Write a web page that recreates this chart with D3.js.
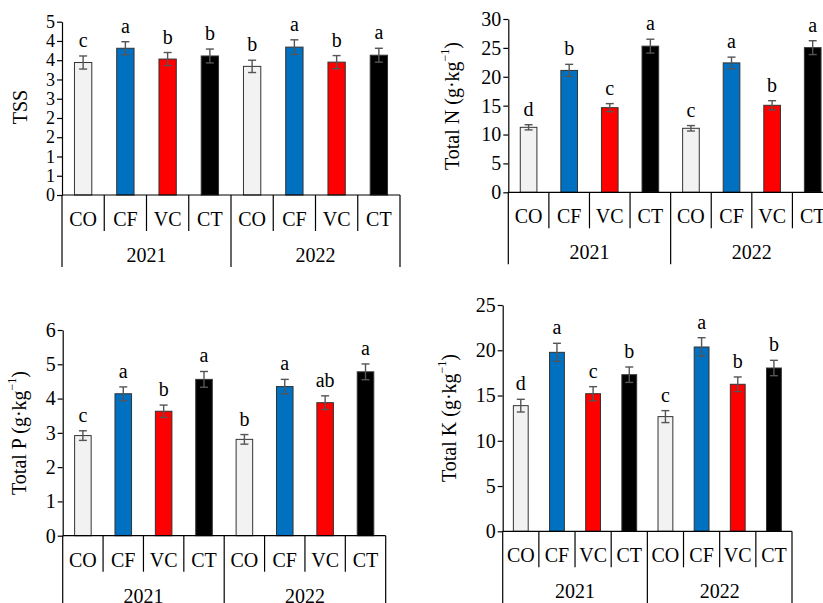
<!DOCTYPE html>
<html>
<head>
<meta charset="utf-8">
<script src="https://cdn.jsdelivr.net/npm/d3@7"></script>
<style>
  body { margin: 0; background: #fff; }
  svg { display: block; font-family: "Liberation Serif", "Times New Roman", serif; }
</style>
</head>
<body>
<svg id="chart" width="823" height="603"></svg>
<script>
// treatments and years
var treatments = ["CO", "CF", "VC", "CT"];
var years = ["2021", "2022"];
var colors = ["#f2f2f2", "#0070c0", "#ff0000", "#000000"];

// TSS
var tssMean = [3.44, 3.81, 3.53, 3.61, 3.34, 3.84, 3.45, 3.63];
var tssErr = [0.17, 0.17, 0.17, 0.18, 0.16, 0.19, 0.17, 0.18];
var tssLetters = ["c", "a", "b", "b", "b", "a", "b", "a"];
var tssTicks = [0, 0.5, 1, 1.5, 2, 2.5, 3, 3.5, 4, 4.5];

// Total N
var nMean = [11.25, 21.1, 14.65, 25.3, 11.08, 22.4, 15.06, 25.04];
var nErr = [0.45, 1.05, 0.7, 1.2, 0.47, 1.0, 0.8, 1.2];
var nLetters = ["d", "b", "c", "a", "c", "a", "b", "a"];
var nTicks = [0, 5, 10, 15, 20, 25, 30];

// Total P
var pMean = [2.92, 4.14, 3.63, 4.56, 2.81, 4.35, 3.88, 4.78];
var pErr = [0.14, 0.2, 0.18, 0.23, 0.14, 0.21, 0.2, 0.23];
var pLetters = ["c", "a", "b", "a", "b", "a", "ab", "a"];
var pTicks = [0, 1, 2, 3, 4, 5, 6];

// Total K
var kMean = [13.88, 19.77, 15.2, 17.3, 12.67, 20.36, 16.24, 18.04];
var kErr = [0.7, 1.0, 0.78, 0.85, 0.66, 1.03, 0.81, 0.85];
var kLetters = ["d", "a", "c", "b", "c", "a", "b", "b"];
var kTicks = [0, 5, 10, 15, 20, 25];

var svg = d3.select('#chart');

function drawPanel(p) {
  var keys = [];
  years.forEach(function (yr) {
    treatments.forEach(function (t) { keys.push(yr + '-' + t); });
  });
  var data = keys.map(function (k, i) {
    return { key: k, t: treatments[i % 4], mean: p.mean[i], err: p.err[i], letter: p.letters[i], color: colors[i % 4] };
  });

  var x = d3.scaleBand().domain(keys).range([p.x0, p.x1]).paddingInner(0.59).paddingOuter(0.295);
  var y = d3.scaleLinear().domain([0, p.max]).range([p.y0, p.yTop]);
  var step = x.step();
  var g = svg.append('g');

  // y axis
  var yAxis = d3.axisLeft(y).tickValues(p.ticks).tickSize(5).tickSizeOuter(0).tickPadding(2)
    .tickFormat(p.fmt || function (d) { return d; });
  var ya = g.append('g').attr('transform', 'translate(' + p.x0 + ',0)').call(yAxis);
  ya.selectAll('text').attr('font-size', p.tickFont || '20px').attr('font-family', '"Liberation Serif", serif').attr('fill', '#000');
  ya.selectAll('line, path').attr('stroke', '#000').attr('stroke-width', 1.2);

  // bars
  g.selectAll('rect.bar').data(data).enter().append('rect')
    .attr('x', function (d) { return x(d.key); })
    .attr('y', function (d) { return y(d.mean); })
    .attr('width', x.bandwidth())
    .attr('height', function (d) { return y(0) - y(d.mean); })
    .attr('fill', function (d) { return d.color; })
    .attr('stroke', '#333')
    .attr('stroke-width', 1);

  // error bars
  var eb = g.selectAll('g.err').data(data).enter().append('g')
    .attr('transform', function (d) { return 'translate(' + (x(d.key) + x.bandwidth() / 2) + ',0)'; })
    .attr('stroke', '#555').attr('stroke-width', 1.4);
  eb.append('line').attr('x1', 0).attr('x2', 0)
    .attr('y1', function (d) { return y(d.mean - d.err); })
    .attr('y2', function (d) { return y(d.mean + d.err); });
  eb.append('line').attr('x1', -4).attr('x2', 4)
    .attr('y1', function (d) { return y(d.mean + d.err); })
    .attr('y2', function (d) { return y(d.mean + d.err); });
  eb.append('line').attr('x1', -4).attr('x2', 4)
    .attr('y1', function (d) { return y(d.mean - d.err); })
    .attr('y2', function (d) { return y(d.mean - d.err); });

  // significance letters
  g.selectAll('text.letter').data(data).enter().append('text')
    .attr('x', function (d) { return x(d.key) + x.bandwidth() / 2; })
    .attr('y', function (d) { return y(d.mean + d.err) - 9; })
    .attr('text-anchor', 'middle')
    .attr('font-size', '20px')
    .text(function (d) { return d.letter; });

  // x axis line
  g.append('line').attr('x1', p.x0).attr('x2', p.x1).attr('y1', p.y0).attr('y2', p.y0)
    .attr('stroke', '#000').attr('stroke-width', 1.2);

  // separators
  var bounds = keys.map(function (k) { return x(k) - step * x.paddingOuter(); });
  bounds.push(p.x1);
  g.selectAll('line.sep').data(bounds).enter().append('line')
    .attr('x1', function (d) { return d; }).attr('x2', function (d) { return d; })
    .attr('y1', p.y0)
    .attr('y2', function (d, i) { return i % 4 === 0 ? p.y0 + 72 : p.y0 + 36; })
    .attr('stroke', '#000').attr('stroke-width', 1.2);

  // category labels
  g.selectAll('text.cat').data(data).enter().append('text')
    .attr('x', function (d) { return x(d.key) + x.bandwidth() / 2; })
    .attr('y', p.y0 + 31)
    .attr('text-anchor', 'middle')
    .attr('font-size', '20px')
    .text(function (d) { return d.t; });

  // year labels
  g.selectAll('text.year').data(years).enter().append('text')
    .attr('x', function (d, i) { return (bounds[i * 4] + bounds[i * 4 + 4]) / 2; })
    .attr('y', p.y0 + 67)
    .attr('text-anchor', 'middle')
    .attr('font-size', '20px')
    .text(function (d) { return d; });

  // y label
  var lab = g.append('text')
    .attr('transform', 'translate(' + p.lx + ',' + p.ly + ') rotate(-90)')
    .attr('text-anchor', 'middle')
    .attr('dominant-baseline', 'middle')
    .attr('font-size', '20px');
  lab.append('tspan').text(p.label);
  if (p.unit) {
    lab.append('tspan').text(' (g·kg');
    lab.append('tspan').attr('font-size', '12px').attr('dy', -8).text('−1');
    lab.append('tspan').attr('dy', 8).text(')');
  }
}

drawPanel({ x0: 62, x1: 400, y0: 195, yTop: 21.7, max: 4.5, ticks: tssTicks, tickFont: '18px',
  fmt: function (d) { return Math.round(d); },
  mean: tssMean, err: tssErr, letters: tssLetters, label: 'TSS', unit: false, lx: 22, ly: 107 });

drawPanel({ x0: 508.3, x1: 833, y0: 192.3, yTop: 19, max: 30, ticks: nTicks,
  mean: nMean, err: nErr, letters: nLetters, label: 'Total N', unit: true, lx: 454, ly: 106 });

drawPanel({ x0: 62.7, x1: 385.7, y0: 535.7, yTop: 330, max: 6, ticks: pTicks,
  mean: pMean, err: pErr, letters: pLetters, label: 'Total P', unit: true, lx: 21, ly: 433 });

drawPanel({ x0: 502.7, x1: 792, y0: 531.3, yTop: 305, max: 25, ticks: kTicks,
  mean: kMean, err: kErr, letters: kLetters, label: 'Total K', unit: true, lx: 451, ly: 418 });
</script>
</body>
</html>
